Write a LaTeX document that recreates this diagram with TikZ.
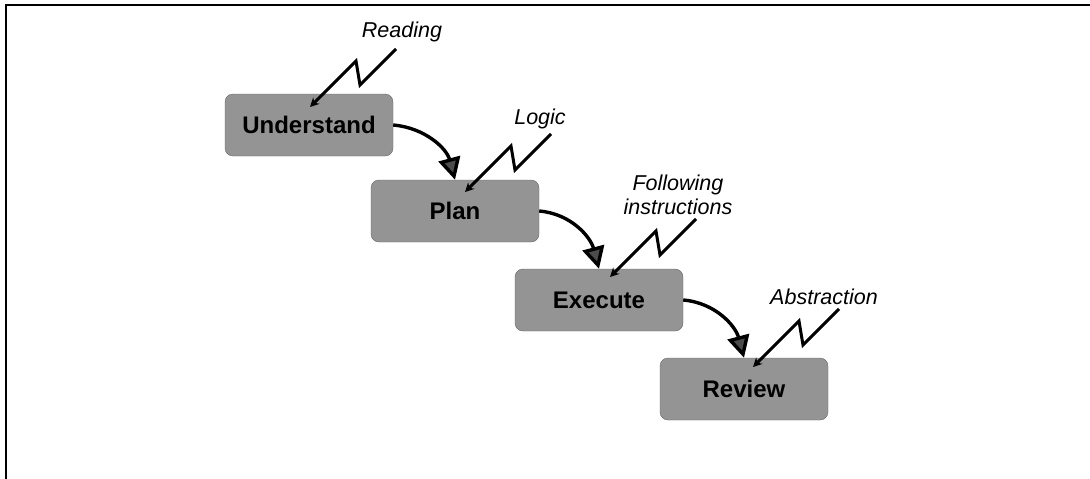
\documentclass[tikz,border=0pt]{standalone}
\usepackage{fontspec}
\setmainfont{Liberation Sans}
\usetikzlibrary{arrows.meta}

\tikzset{
  stage/.style={draw=black!60, fill=black!42, rounded corners=8pt,
    minimum width=168pt, minimum height=62pt, inner sep=0pt,
    font=\fontsize{24}{28}\selectfont\bfseries},
  skill/.style={inner sep=0pt, align=center,
    font=\fontsize{21.5}{24}\selectfont\itshape},
  flow/.style={line width=3.4pt,
    -{Triangle[length=22pt,width=22pt,fill=black!70]}},
  bolt/.style={line width=3pt, line join=miter,
    -{Stealth[length=9pt,width=9pt]}}
}

\begin{document}
\begin{tikzpicture}[x=1pt,y=1pt]
\useasboundingbox (0,0) rectangle (1090,-479);
\draw[line width=2pt] (1090,-5) -- (6,-5) -- (6,-479);

\node[stage] (und) at (309,-125) {Understand};
\node[stage] (pln) at (455,-211) {Plan};
\node[stage] (exe) at (599,-300) {Execute};
\node[stage] (rev) at (744,-389) {Review};

\node[skill] (rd) at (402,-32) {Reading};
\node[skill] (lg) at (540,-119) {Logic};
\node[skill] (fi) at (678,-195) {Following\\instructions};
\node[skill] (ab) at (824,-297) {Abstraction};

\coordinate (und-z) at (310,-107);
\coordinate (pln-z) at (465,-192);
\coordinate (exe-z) at (610,-277);
\coordinate (rev-z) at (753,-367);
\coordinate (rd-z) at (396,-49);
\coordinate (lg-z) at (551,-134);
\coordinate (fi-z) at (696,-219);
\coordinate (ab-z) at (839,-309);

\draw[bolt] (rd-z) -- ++(-36,-36) -- ++(-4,24) -- (und-z);
\draw[bolt] (lg-z) -- ++(-36,-36) -- ++(-4,24) -- (pln-z);
\draw[bolt] (fi-z) -- ++(-36,-36) -- ++(-4,24) -- (exe-z);
\draw[bolt] (ab-z) -- ++(-36,-36) -- ++(-4,24) -- (rev-z);

\draw[flow] (und.east) to[out=-5,in=105] (pln.north);
\draw[flow] (pln.east) to[out=-5,in=105] (exe.north);
\draw[flow] (exe.east) to[out=-5,in=105] (rev.north);
\end{tikzpicture}
\end{document}
